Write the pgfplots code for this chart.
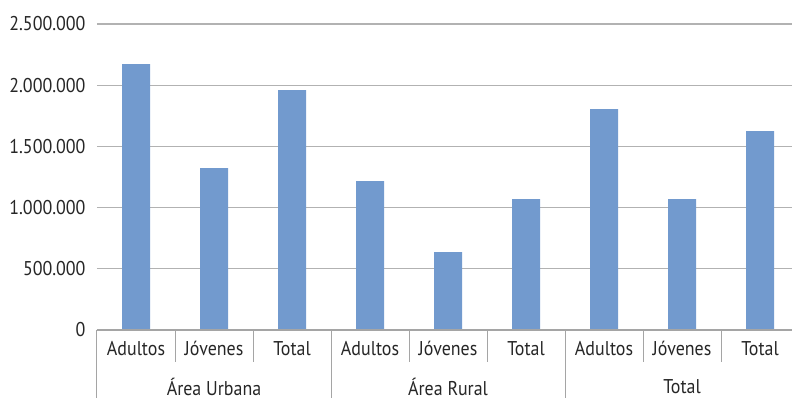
\documentclass[border=0pt]{standalone}
\usepackage{fontspec}
\setmainfont{PT Sans}[FakeStretch=0.9]
\usepackage{pgfplots}
\pgfplotsset{compat=1.18}
\definecolor{barblue}{RGB}{114,154,206}
\definecolor{gridgray}{RGB}{178,178,178}
\definecolor{sepgray}{RGB}{165,165,165}
\begin{document}
\begin{tikzpicture}
\begin{axis}[
  scale only axis, width=695bp, height=306bp,
  xmin=-0.5, xmax=8.41, ymin=0, ymax=2500000,
  axis line style={draw=none},
  tick style={draw=none},
  ymajorgrids, grid style={gridgray, line width=1.2bp},
  ytick={0,500000,1000000,1500000,2000000,2500000},
  scaled y ticks=false,
  yticklabel style={/pgf/number format/fixed, /pgf/number format/precision=0, /pgf/number format/1000 sep={.}, /pgf/number format/assume math mode=true},
  xtick={0,...,8},
  xticklabels={Adultos,Jóvenes,Total,Adultos,Jóvenes,Total,Adultos,Jóvenes,Total},
  tick label style={font=\fontsize{20}{21}\selectfont, text=black!85},
  yticklabel style={xshift=-8bp},
  xticklabel style={yshift=-8bp},
  clip=false,
]
\addplot[ybar, bar width=28bp, bar shift=0pt, fill=barblue, draw=none] coordinates {
  (0,2172000) (1,1323000) (2,1960000)
  (3,1217000) (4,637000) (5,1070000)
  (6,1805000) (7,1070000) (8,1625000)
};
\draw[sepgray, line width=1.2bp] (axis cs:-0.5,0) -- (axis cs:8.41,0);
\pgfplotsinvokeforeach{0.5,1.5,3.5,4.5,6.5,7.5}{
  \draw[sepgray, line width=1bp] (axis cs:#1,0) -- ++(0pt,-32bp);
}
\pgfplotsinvokeforeach{-0.5,2.5,5.5}{
  \draw[sepgray, line width=1bp] (axis cs:#1,0) -- ++(0pt,-70bp);
}
\node[font=\fontsize{20}{21}\selectfont, text=black!85] at (axis cs:1,0) [yshift=-57bp] {Área Urbana};
\node[font=\fontsize{20}{21}\selectfont, text=black!85] at (axis cs:4,0) [yshift=-57bp] {Área Rural};
\node[font=\fontsize{20}{21}\selectfont, text=black!85] at (axis cs:7,0) [yshift=-57bp] {Total};
\end{axis}
\pgfresetboundingbox
\useasboundingbox (-97bp,-68bp) rectangle (695bp,330bp);
\end{tikzpicture}
\end{document}
